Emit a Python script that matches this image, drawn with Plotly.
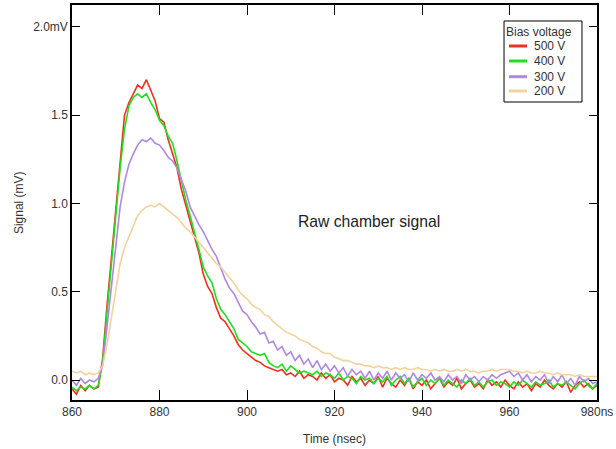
import plotly.graph_objects as go

time_ns = list(range(860, 982))

v500 = [-0.05, -0.08, -0.03, -0.06, -0.03, -0.05, -0.04, 0.12, 0.42, 0.70,
        0.98, 1.26, 1.50, 1.57, 1.62, 1.67, 1.65, 1.70, 1.64, 1.58,
        1.48, 1.46, 1.36, 1.28, 1.20, 1.08, 0.99, 0.89, 0.81, 0.72,
        0.60, 0.53, 0.49, 0.41, 0.35, 0.33, 0.29, 0.25, 0.20, 0.17,
        0.15, 0.13, 0.11, 0.10, 0.08, 0.07, 0.06, 0.05, 0.06, 0.03,
        0.04, 0.02, 0.05, 0.01, 0.03, 0.02, 0.00, 0.04, 0.01, 0.03,
        -0.01, 0.01, 0.00, -0.03, 0.02, -0.01, 0.01, -0.03, 0.00, -0.02,
        0.02, -0.04, 0.01, -0.02, -0.04, 0.00, -0.03, 0.01, -0.05, -0.01,
        -0.03, 0.00, -0.05, -0.02, 0.01, -0.04, -0.01, -0.03, 0.01, -0.05,
        -0.02, 0.00, -0.04, -0.02, -0.05, 0.00, -0.03, -0.01, -0.04, 0.00,
        -0.03, -0.05, -0.01, -0.04, -0.02, -0.06, -0.02, -0.04, 0.00, -0.03,
        -0.05, -0.02, -0.04, -0.01, -0.07, -0.03, -0.01, -0.04, -0.02, -0.05,
        -0.03, -0.04]

v400 = [-0.04, -0.06, -0.04, -0.05, -0.03, -0.05, -0.03, 0.10, 0.38, 0.66,
        0.94, 1.20, 1.42, 1.55, 1.60, 1.62, 1.60, 1.62, 1.57, 1.53,
        1.47, 1.44, 1.38, 1.34, 1.24, 1.12, 1.02, 0.93, 0.84, 0.74,
        0.64, 0.59, 0.55, 0.46, 0.40, 0.37, 0.33, 0.29, 0.23, 0.21,
        0.19, 0.16, 0.15, 0.14, 0.15, 0.10, 0.08, 0.07, 0.09, 0.05,
        0.08, 0.06, 0.04, 0.05, 0.04, 0.03, 0.05, 0.02, 0.04, 0.03,
        0.01, 0.04, 0.00, 0.02, 0.01, -0.02, 0.02, 0.00, 0.01, -0.02,
        0.01, -0.01, 0.02, -0.03, 0.00, 0.02, -0.02, 0.01, -0.04, -0.01,
        0.01, -0.03, 0.00, -0.02, 0.01, -0.03, 0.00, -0.02, -0.04, 0.00,
        -0.02, 0.01, -0.03, -0.01, -0.04, -0.01, 0.00, -0.03, -0.01, -0.02,
        -0.04, -0.01, -0.03, 0.00, -0.02, -0.04, -0.01, -0.03, -0.02, 0.00,
        -0.04, -0.02, -0.03, -0.01, -0.03, -0.05, -0.02, 0.00, -0.03, -0.05,
        -0.02, -0.06]

v300 = [0.00, -0.03, 0.01, -0.02, 0.00, -0.01, 0.01, 0.08, 0.30, 0.52,
        0.76, 0.98, 1.12, 1.22, 1.28, 1.33, 1.36, 1.35, 1.37, 1.34,
        1.33, 1.30, 1.26, 1.24, 1.20, 1.14, 1.07, 0.98, 0.93, 0.88,
        0.84, 0.79, 0.74, 0.70, 0.63, 0.57, 0.52, 0.49, 0.44, 0.39,
        0.37, 0.33, 0.30, 0.26, 0.27, 0.21, 0.22, 0.17, 0.19, 0.14,
        0.16, 0.11, 0.14, 0.09, 0.12, 0.07, 0.11, 0.06, 0.09, 0.05,
        0.08, 0.04, 0.07, 0.02, 0.06, 0.03, 0.05, 0.01, 0.05, 0.00,
        0.04, 0.01, 0.05, 0.00, 0.04, 0.01, 0.03, -0.01, 0.04, 0.00,
        0.03, 0.01, 0.04, 0.00, 0.02, -0.01, 0.03, 0.00, 0.02, -0.02,
        0.03, 0.00, 0.02, -0.01, 0.02, 0.00, 0.03, 0.01, 0.03, 0.04,
        0.05, 0.02, 0.04, 0.00, 0.03, -0.01, 0.02, 0.00, 0.03, -0.02,
        0.02, -0.01, 0.03, -0.02, 0.01, -0.03, 0.02, -0.01, 0.01, -0.02,
        -0.01, -0.03]

v200 = [0.05, 0.04, 0.05, 0.03, 0.04, 0.03, 0.04, 0.08, 0.20, 0.36,
        0.52, 0.66, 0.75, 0.81, 0.88, 0.93, 0.96, 0.98, 0.99, 0.98,
        1.00, 0.98, 0.96, 0.94, 0.92, 0.89, 0.86, 0.84, 0.81, 0.78,
        0.75, 0.72, 0.69, 0.66, 0.64, 0.61, 0.58, 0.55, 0.51, 0.48,
        0.46, 0.43, 0.41, 0.40, 0.37, 0.36, 0.33, 0.31, 0.29, 0.27,
        0.26, 0.25, 0.23, 0.22, 0.21, 0.19, 0.18, 0.16, 0.15, 0.15,
        0.13, 0.12, 0.11, 0.11, 0.10, 0.09, 0.09, 0.08, 0.08, 0.07,
        0.08, 0.07, 0.07, 0.06, 0.07, 0.06, 0.07, 0.06, 0.06, 0.07,
        0.06, 0.06, 0.05, 0.06, 0.05, 0.06, 0.05, 0.05, 0.06, 0.05,
        0.06, 0.05, 0.05, 0.04, 0.05, 0.05, 0.06, 0.05, 0.06, 0.06,
        0.06, 0.05, 0.05, 0.04, 0.05, 0.04, 0.04, 0.05, 0.04, 0.04,
        0.03, 0.04, 0.03, 0.03, 0.03, 0.02, 0.03, 0.02, 0.02, 0.02,
        0.02, 0.02]

series_names = ["500 V", "400 V", "300 V", "200 V"]
series_values = [v500, v400, v300, v200]
series_colors = ["#f0301e", "#22dd22", "#b088e0", "#f2d29e"]

x_ticks = [860, 880, 900, 920, 940, 960, 980]
x_ticklabels = ["860", "880", "900", "920", "940", "960", "980ns"]
y_ticks = [0.0, 0.5, 1.0, 1.5, 2.0]
y_ticklabels = ["0.0", "0.5", "1.0", "1.5", "2.0mV"]

FONT = "Liberation Sans, Arial, sans-serif"
TXT = "#333333"

fig = go.Figure()
for name, vals, col in zip(series_names, series_values, series_colors):
    fig.add_trace(go.Scatter(x=time_ns, y=vals, mode="lines", name=name,
                             line=dict(color=col, width=1.6), showlegend=False))

yrange = [-0.113, 2.123]

fig.update_layout(
    width=616, height=449,
    margin=dict(l=72, r=19, t=5, b=49, autoexpand=False),
    paper_bgcolor="white", plot_bgcolor="white",
    font=dict(family=FONT, size=12, color=TXT),
    xaxis=dict(range=[860, 980], tickvals=x_ticks, ticktext=x_ticklabels,
               ticks="inside", ticklen=10, tickcolor="black", tickwidth=1.2,
               showline=True, linecolor="black", linewidth=1.5, mirror="ticks",
               showgrid=False, zeroline=False, automargin=False,
               tickfont=dict(size=12, color=TXT)),
    yaxis=dict(range=yrange, tickvals=y_ticks, ticktext=y_ticklabels,
               ticks="inside", ticklen=8, tickcolor="black", tickwidth=1.2,
               showline=True, linecolor="black", linewidth=1.5, mirror="ticks",
               showgrid=False, zeroline=False, automargin=False,
               tickfont=dict(size=12, color=TXT)),
    showlegend=False,
)

# axis titles
fig.add_annotation(x=0.5, y=-0.0987, xref="paper", yref="paper", text="Time (nsec)",
                   showarrow=False, xanchor="center", yanchor="middle",
                   font=dict(size=12, color=TXT, family=FONT))
fig.add_annotation(x=-0.101, y=0.501, xref="paper", yref="paper", text="Signal (mV)",
                   showarrow=False, textangle=-90, xanchor="center", yanchor="middle",
                   font=dict(size=12, color=TXT, family=FONT))

# in-plot label
fig.add_annotation(x=927.9, y=0.90, xref="x", yref="y", text="Raw chamber signal",
                   showarrow=False, font=dict(size=15.7, color="#222222", family=FONT))

# legend box (drawn to match the compact reference legend)
leg_x0, leg_x1, leg_top, leg_bot = 0.8229, 0.9714, 0.9595, 0.7544
fig.add_shape(type="rect", xref="paper", yref="paper", x0=leg_x0, x1=leg_x1,
              y0=leg_bot, y1=leg_top, line=dict(color="black", width=1),
              fillcolor="white", layer="above")
fig.add_annotation(x=0.8895, y=0.9324, xref="paper", yref="paper", text="Bias voltage",
                   showarrow=False, xanchor="center", yanchor="middle",
                   font=dict(size=12, color=TXT, family=FONT))
item_ys = [0.8962, 0.8582, 0.8185, 0.7823]
for name, col, iy in zip(series_names, series_colors, item_ys):
    fig.add_shape(type="line", xref="paper", yref="paper", x0=0.8324, x1=0.8667,
                  y0=iy, y1=iy, line=dict(color=col, width=3), layer="above")
    fig.add_annotation(x=0.8756, y=iy, xref="paper", yref="paper", text=name,
                       showarrow=False, xanchor="left", yanchor="middle",
                       font=dict(size=12, color=TXT, family=FONT))

fig.write_html("out.html",
               config={"displayModeBar": False},
               post_script="document.body.style.margin='0';document.body.style.padding='0';")
